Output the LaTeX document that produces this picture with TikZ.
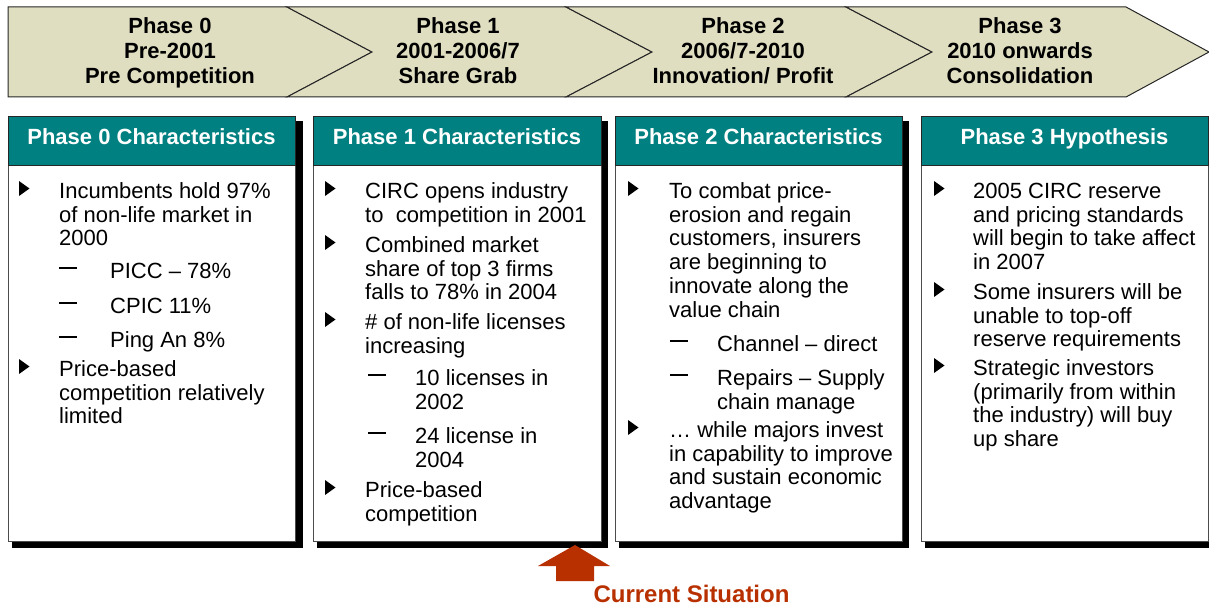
\documentclass[tikz,border=0pt]{standalone}
\usepackage{fontspec}
\setmainfont{Liberation Sans}
\definecolor{band}{HTML}{E0DEC1}
\definecolor{hdrteal}{HTML}{008080}
\definecolor{nowred}{HTML}{B83000}
\newcommand\lnstrut{\rule{0pt}{17pt}}
\tikzset{
  tri/.pic={\fill (0,-17) -- (10.5,-9.5) -- (0,-2) -- cycle;},
  subdash/.pic={\draw[line width=1.7pt] (0,-10) -- (18,-10);},
}
\begin{document}
\begin{tikzpicture}[x=1pt,y=-1pt,
  chev/.style={fill=band, draw=black!85, line width=1pt, line join=miter},
  chevtext/.style={font=\bfseries\fontsize{22}{25}\selectfont, align=center, inner sep=0pt, anchor=north},
  shade/.style={fill=black},
  panel/.style={fill=white, draw=black!70, line width=1pt},
  hdr/.style={fill=hdrteal, draw=black!85, line width=1pt},
  hdrtext/.style={font=\bfseries\fontsize{22}{25}\selectfont, text=white, inner sep=0pt, anchor=base},
  body/.style={anchor=north west, inner sep=0pt, align=left, font=\fontsize{22}{23.8}\selectfont},
]
\useasboundingbox (0,0) rectangle (1209,607);
\clip (0,0) rectangle (1209,607);

% timeline chevrons
\draw[chev] (8,7) -- (287,7) -- (372,52) -- (287,97) -- (8,97) -- cycle;
\draw[chev] (287,7) -- (566,7) -- (652,52) -- (566,97) -- (287,97) -- (372,52) -- cycle;
\draw[chev] (566,7) -- (846,7) -- (932,52) -- (846,97) -- (566,97) -- (652,52) -- cycle;
\draw[chev] (846,7) -- (1126,7) -- (1209,52) -- (1126,97) -- (846,97) -- (932,52) -- cycle;

\node[chevtext] (c0) at (170,16) {\lnstrut Phase 0\\Pre-2001\\Pre Competition};
\node[chevtext] (c1) at (458,16) {\lnstrut Phase 1\\2001-2006/7\\Share Grab};
\node[chevtext] (c2) at (743,16) {\lnstrut Phase 2\\2006/7-2010\\Innovation/ Profit};
\node[chevtext] (c3) at (1020,16) {\lnstrut Phase 3\\2010 onwards\\Consolidation};

% panels with drop shadows
\fill[shade] (12,121) rectangle (303,548);
\fill[shade] (317,121) rectangle (608,548);
\fill[shade] (619,121) rectangle (909,548);
\fill[shade] (925,121) rectangle (1216,548);

\draw[panel] (8,117) rectangle (295,541);
\draw[panel] (313,117) rectangle (601,541);
\draw[panel] (615,117) rectangle (902,541);
\draw[panel] (921,117) rectangle (1208,541);

\draw[hdr] (8,117) rectangle (295,165);
\draw[hdr] (313,117) rectangle (601,165);
\draw[hdr] (615,117) rectangle (902,165);
\draw[hdr] (921,117) rectangle (1208,165);

\node[hdrtext] (h0) at (151.5,144) {Phase 0 Characteristics};
\node[hdrtext] (h1) at (457,144) {Phase 1 Characteristics};
\node[hdrtext] (h2) at (758.5,144) {Phase 2 Characteristics};
\node[hdrtext] (h3) at (1064.5,144) {Phase 3 Hypothesis};

% Phase 0 body
\pic at (19,198) {tri};
\node[body] (p0a) at (59,181) {\lnstrut Incumbents hold 97\%\\of non-life market in\\2000};
\pic at (59,278) {subdash};
\node[body] (p0b) at (110,261) {\lnstrut PICC -- 78\%};
\pic at (59,313) {subdash};
\node[body] (p0c) at (110,296) {\lnstrut CPIC 11\%};
\pic at (59,347) {subdash};
\node[body] (p0d) at (110,330) {\lnstrut Ping An 8\%};
\pic at (19,376) {tri};
\node[body] (p0e) at (59,359) {\lnstrut Price-based\\competition relatively\\limited};

% Phase 1 body
\pic at (325,198) {tri};
\node[body] (p1a) at (365,181) {\lnstrut CIRC opens industry\\to~~competition in 2001};
\pic at (325,252) {tri};
\node[body] (p1b) at (365,235) {\lnstrut Combined market\\share of top 3 firms\\falls to 78\% in 2004};
\pic at (325,329) {tri};
\node[body] (p1c) at (365,312) {\lnstrut \# of non-life licenses\\increasing};
\pic at (368,385) {subdash};
\node[body] (p1d) at (415,368) {\lnstrut 10 licenses in\\2002};
\pic at (368,443) {subdash};
\node[body] (p1e) at (415,426) {\lnstrut 24 license in\\2004};
\pic at (325,497) {tri};
\node[body] (p1f) at (365,480) {\lnstrut Price-based\\competition};

% Phase 2 body
\pic at (628,198) {tri};
\node[body] (p2a) at (669,181) {\lnstrut To combat price-\\erosion and regain\\customers, insurers\\are beginning to\\innovate along the\\value chain};
\pic at (670,351) {subdash};
\node[body] (p2b) at (717,334) {\lnstrut Channel -- direct};
\pic at (670,385) {subdash};
\node[body] (p2c) at (717,368) {\lnstrut Repairs -- Supply\\chain manage};
\pic at (628,437) {tri};
\node[body] (p2d) at (669,420) {\lnstrut … while majors invest\\in capability to improve\\and sustain economic\\advantage};

% Phase 3 body
\pic at (934,198) {tri};
\node[body] (p3a) at (973,181) {\lnstrut 2005 CIRC reserve\\and pricing standards\\will begin to take affect\\in 2007};
\pic at (934,299) {tri};
\node[body] (p3b) at (973,282) {\lnstrut Some insurers will be\\unable to top-off\\reserve requirements};
\pic at (934,375) {tri};
\node[body] (p3c) at (973,358) {\lnstrut Strategic investors\\(primarily from within\\the industry) will buy\\up share};

% current position marker
\fill[nowred] (575,545) -- (610,566) -- (594,566) -- (594,581) -- (556,581) -- (556,566) -- (538,566) -- cycle;
\node[font=\bfseries\fontsize{24}{26}\selectfont, text=nowred, inner sep=0pt] (now) at (691.5,594) {Current Situation};
\end{tikzpicture}
\end{document}
